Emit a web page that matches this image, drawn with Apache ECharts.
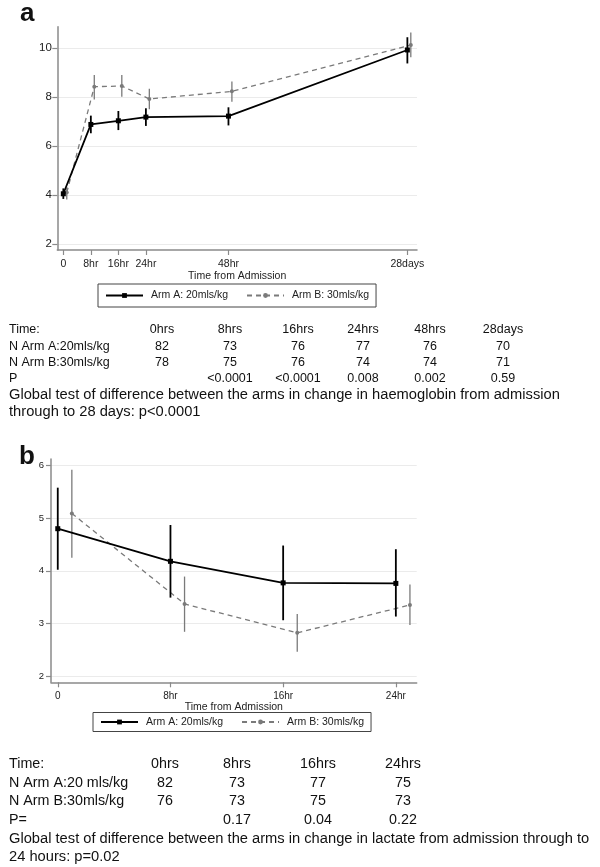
<!DOCTYPE html>
<html><head><meta charset="utf-8">
<script src="https://cdn.jsdelivr.net/npm/echarts@6/dist/echarts.min.js"></script>
<style>html,body{margin:0;padding:0;background:#fff}#c{width:600px;height:867px}</style>
</head><body><div id="c"></div>
<script>
// ---------- Panel a: haemoglobin ----------
const hbTimes = [0, 8, 16, 24, 48, 100];           // axis position (hours scale; 28 days drawn at 100)
const hbTickLabels = ['0', '8hr', '16hr', '24hr', '48hr', '28days'];
const hbYTicks = [2, 4, 6, 8, 10];
const hbArmA     = [4.05, 6.88, 7.03, 7.18, 7.22, 9.92];
const hbArmALow  = [3.84, 6.52, 6.65, 6.82, 6.84, 9.37];
const hbArmAHigh = [4.27, 7.24, 7.43, 7.54, 7.58, 10.44];
const hbArmB     = [4.10, 8.42, 8.45, 7.92, 8.23, 10.12];
const hbArmBLow  = [3.82, 7.90, 8.01, 7.50, 7.81, 9.62];
const hbArmBHigh = [4.31, 8.90, 8.90, 8.34, 8.63, 10.63];

// ---------- Panel b: lactate ----------
const lacTimes = [0, 8, 16, 24];
const lacTickLabels = ['0', '8hr', '16hr', '24hr'];
const lacYTicks = [2, 3, 4, 5, 6];
const lacArmA     = [4.80, 4.18, 3.77, 3.76];
const lacArmALow  = [4.02, 3.49, 3.06, 3.13];
const lacArmAHigh = [5.58, 4.87, 4.48, 4.41];
const lacArmB     = [5.09, 3.37, 2.82, 3.35];
const lacArmBLow  = [4.25, 2.84, 2.46, 2.97];
const lacArmBHigh = [5.92, 3.89, 3.18, 3.74];

const armBOffset = 1; // Arm B drawn slightly to the right of each time point
const nameA = 'Arm A: 20mls/kg';
const nameB = 'Arm B: 30mls/kg';

// ---------- Tables ----------
const hbRowLabels = ['Time:', 'N Arm A:20mls/kg', 'N Arm B:30mls/kg', 'P'];
const hbCols   = ['0hrs', '8hrs', '16hrs', '24hrs', '48hrs', '28days'];
const hbNArmA  = ['82', '73', '76', '77', '76', '70'];
const hbNArmB  = ['78', '75', '76', '74', '74', '71'];
const hbP      = ['', '<0.0001', '<0.0001', '0.008', '0.002', '0.59'];
const hbGlobal = ['Global test of difference between the arms in change in haemoglobin from admission',
                  'through to 28 days: p<0.0001'];

const lacRowLabels = ['Time:', 'N Arm A:20 mls/kg', 'N Arm B:30mls/kg', 'P='];
const lacCols  = ['0hrs', '8hrs', '16hrs', '24hrs'];
const lacNArmA = ['82', '73', '77', '75'];
const lacNArmB = ['76', '73', '75', '73'];
const lacP     = ['', '0.17', '0.04', '0.22'];
const lacGlobal = ['Global test of difference between the arms in change in lactate from admission through to',
                   '24 hours: p=0.02'];

const FONT = '"Liberation Sans", Arial, Helvetica, sans-serif';
const AXIS_GRAY = '#8a8a8a';
const GREY_B = '#7a7a7a';

function pts(times, vals, off) { return times.map((t, i) => [t + off, vals[i]]); }
function bars(times, lo, hi, off) { return times.map((t, i) => [t + off, lo[i], hi[i]]); }
function errRender(color, w) {
  return function (params, api) {
    const p1 = api.coord([api.value(0), api.value(1)]);
    const p2 = api.coord([api.value(0), api.value(2)]);
    return { type: 'line', shape: { x1: p1[0], y1: p1[1], x2: p2[0], y2: p2[1] },
             style: { stroke: color, lineWidth: w } };
  };
}

function xAxisCfg(gi, min, max, ticks, labels, fs) {
  return {
    gridIndex: gi, type: 'value', min: min, max: max,
    axisLine: { show: true, onZero: false, lineStyle: { color: AXIS_GRAY, width: 1.5 } },
    axisTick: { show: true, length: 5, customValues: ticks, lineStyle: { color: AXIS_GRAY, width: 1.2 } },
    axisLabel: { customValues: ticks, formatter: v => { const k = ticks.indexOf(v); return k >= 0 ? labels[k] : ''; },
                 fontSize: fs, color: '#222', margin: 8.5, fontFamily: FONT },
    splitLine: { show: false },
    name: 'Time from Admission', nameLocation: 'middle', nameGap: 17.5,
    nameTextStyle: { fontSize: 10.5, color: '#222', fontFamily: FONT }
  };
}
function yAxisCfg(gi, min, max, ticks, fs, margin) {
  return {
    gridIndex: gi, type: 'value', min: min, max: max, splitNumber: 5,
    axisLine: { show: true, onZero: false, lineStyle: { color: AXIS_GRAY, width: 1.5 } },
    axisTick: { show: true, length: 5, customValues: ticks, lineStyle: { color: AXIS_GRAY, width: 1.2 } },
    axisLabel: { customValues: ticks, fontSize: fs, color: '#222', margin: margin, fontFamily: FONT },
    splitLine: { show: true, lineStyle: { color: '#ebebeb', width: 1 } }
  };
}

function lineSeries(name, gi, data, isA) {
  return {
    type: 'line', name: name, xAxisIndex: gi, yAxisIndex: gi, data: data,
    symbol: isA ? 'rect' : 'circle', symbolSize: isA ? 5 : 4, showSymbol: true,
    itemStyle: { color: isA ? '#000' : GREY_B },
    lineStyle: isA ? { color: '#000', width: 1.8 } : { color: GREY_B, width: 1.3, type: [5, 4] },
    z: isA ? 4 : 3
  };
}
function errSeries(gi, data, isA) {
  return {
    type: 'custom', name: isA ? 'errA' + gi : 'errB' + gi, xAxisIndex: gi, yAxisIndex: gi,
    data: data, encode: { x: 0, y: [1, 2] },
    renderItem: errRender(isA ? '#000' : GREY_B, isA ? 1.8 : 1.3), z: isA ? 4 : 3
  };
}

// table graphics
const graphics = [];
function addText(text, x, y, fs, align, bold) {
  graphics.push({ type: 'text', x: x, y: y, silent: true,
    style: { text: text, font: (bold ? 'bold ' : '') + fs + 'px ' + FONT, fill: '#111',
             align: align, verticalAlign: 'middle' } });
}
function addTable(rowLabels, cols, nA, nB, p, global, top, step, colX, fs, gfs) {
  const rows = [cols, nA, nB, p];
  rows.forEach((r, ri) => {
    const y = top + ri * step;
    addText(rowLabels[ri], 9, y, fs, 'left');
    r.forEach((v, ci) => { if (v) addText(v, colX[ci], y, fs, 'center'); });
  });
  global.forEach((g, gi) => addText(g, 9, top + (4 + gi) * step, gfs, 'left'));
}
addTable(hbRowLabels, hbCols, hbNArmA, hbNArmB, hbP, hbGlobal, 330, 16.3, [162, 230, 298, 363, 430, 503], 12.5, 14.7);
addTable(lacRowLabels, lacCols, lacNArmA, lacNArmB, lacP, lacGlobal, 764, 18.65, [165, 237, 318, 403], 14.3, 14.7);
addText('a', 20, 14, 26, 'left', true);
addText('b', 19, 457, 26, 'left', true);

const legendBase = {
  data: [nameA, nameB], orient: 'horizontal', itemWidth: 37, itemHeight: 6, itemGap: 18,
  borderColor: '#444', borderWidth: 1, selectedMode: false,
  textStyle: { fontSize: 10.5, color: '#222', fontFamily: FONT, padding: [0, 0, 0, 3] }
};

const option = {
  animation: false,
  backgroundColor: '#fff',
  grid: [
    { left: 57.3, top: 26.7, width: 359.7, height: 223.3 },
    { left: 51, top: 459, width: 365.7, height: 223.3 }
  ],
  xAxis: [
    xAxisCfg(0, -1.75, 102.8, hbTimes, hbTickLabels, 10.5),
    xAxisCfg(1, -0.48, 25.48, lacTimes, lacTickLabels, 10)
  ],
  yAxis: [
    yAxisCfg(0, 1.755, 10.87, hbYTicks, 11.5, 5.5),
    yAxisCfg(1, 1.88, 6.125, lacYTicks, 9.5, 7)
  ],
  legend: [
    Object.assign({}, legendBase, { left: 98, top: 284, padding: [6, 7, 6, 7] }),
    Object.assign({}, legendBase, { left: 93, top: 712.5, padding: [4, 7, 4, 7] })
  ],
  series: [
    lineSeries(nameB, 0, pts(hbTimes, hbArmB, armBOffset), false),
    errSeries(0, bars(hbTimes, hbArmBLow, hbArmBHigh, armBOffset), false),
    lineSeries(nameA, 0, pts(hbTimes, hbArmA, 0), true),
    errSeries(0, bars(hbTimes, hbArmALow, hbArmAHigh, 0), true),
    lineSeries(nameB, 1, pts(lacTimes, lacArmB, armBOffset), false),
    errSeries(1, bars(lacTimes, lacArmBLow, lacArmBHigh, armBOffset), false),
    lineSeries(nameA, 1, pts(lacTimes, lacArmA, 0), true),
    errSeries(1, bars(lacTimes, lacArmALow, lacArmAHigh, 0), true)
  ],
  graphic: graphics
};
const chart = echarts.init(document.getElementById('c'), null, { renderer: 'canvas' });
chart.setOption(option);
</script>
</body></html>
